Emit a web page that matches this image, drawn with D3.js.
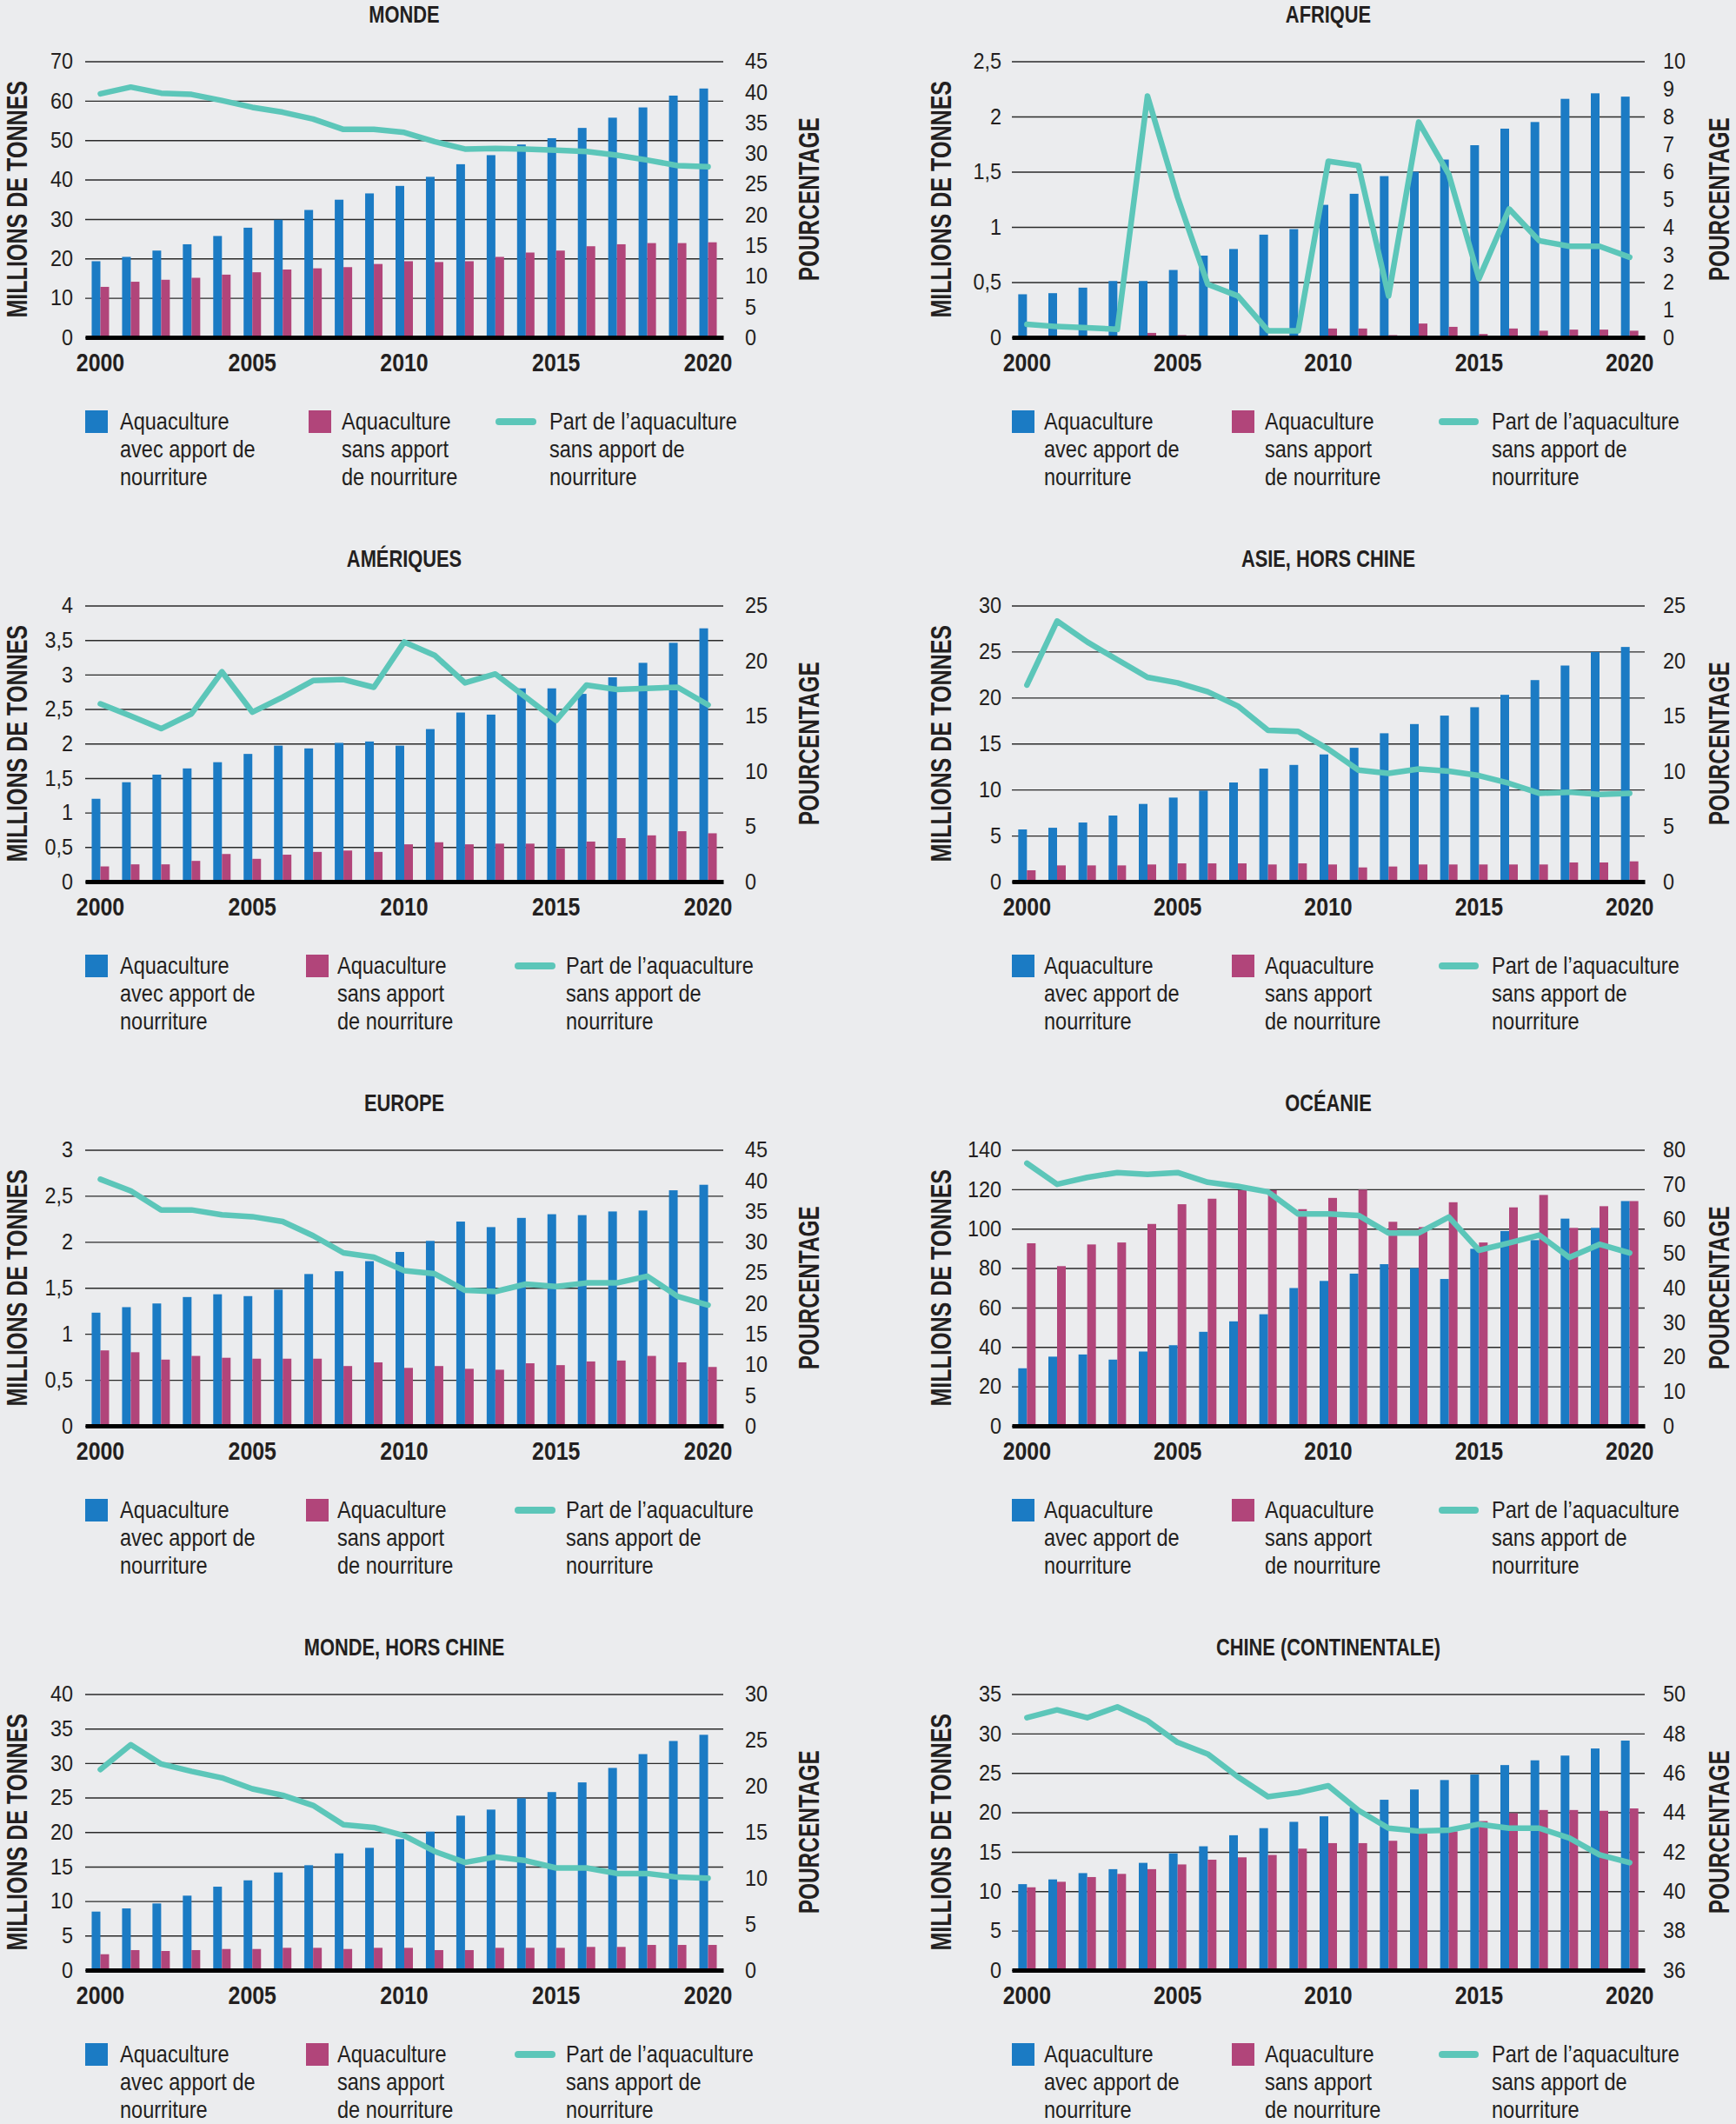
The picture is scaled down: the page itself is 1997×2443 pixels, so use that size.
<!DOCTYPE html>
<html><head><meta charset="utf-8">
<script src="https://cdn.jsdelivr.net/npm/d3@7"></script>
<style>
html,body{margin:0;padding:0;background:#EBECEE;}
svg{display:block;}
</style></head><body>
<svg id="chart" width="1997" height="2443"></svg>
<script>
// ---------- DATA ----------
const years = ["2000","2001","2002","2003","2004","2005","2006","2007","2008","2009","2010",
               "2011","2012","2013","2014","2015","2016","2017","2018","2019","2020"];
const yearTicks = ["2000","2005","2010","2015","2020"];

const titles = ["MONDE","AFRIQUE","AMÉRIQUES","ASIE, HORS CHINE","EUROPE","OCÉANIE","MONDE, HORS CHINE","CHINE (CONTINENTALE)"];

// Aquaculture avec apport de nourriture (millions de tonnes)
const mondeAvec   = [19.3,20.4,22.0,23.6,25.7,27.8,29.8,32.3,34.9,36.5,38.4,40.7,43.9,46.2,48.9,50.5,53.1,55.7,58.3,61.3,63.1];
const afriqueAvec = [0.39,0.40,0.45,0.51,0.51,0.61,0.74,0.80,0.93,0.98,1.20,1.30,1.46,1.50,1.61,1.74,1.89,1.95,2.16,2.21,2.18];
const ameriqAvec  = [1.20,1.44,1.55,1.64,1.73,1.85,1.97,1.93,2.01,2.03,1.97,2.21,2.45,2.42,2.80,2.80,2.72,2.96,3.17,3.46,3.67];
const asieAvec    = [5.67,5.85,6.42,7.18,8.44,9.13,9.88,10.77,12.28,12.68,13.82,14.54,16.12,17.12,18.04,18.95,20.3,21.9,23.48,24.96,25.5];
const europeAvec  = [1.23,1.29,1.33,1.40,1.43,1.41,1.48,1.65,1.68,1.79,1.89,2.01,2.22,2.16,2.26,2.30,2.29,2.33,2.34,2.56,2.62];
const oceanAvec   = [29.2,35.1,36.2,33.6,37.7,40.9,47.7,53.0,56.6,69.9,73.5,77.2,82.0,80.0,74.5,89.8,98.8,94.2,105.1,100.4,114.0];
const horsChAvec  = [8.48,8.94,9.66,10.79,12.09,13.01,14.15,15.2,16.92,17.72,18.98,20.07,22.38,23.26,24.9,25.8,27.2,29.3,31.3,33.2,34.1];
const chineAvec   = [10.9,11.5,12.3,12.8,13.6,14.8,15.7,17.1,18.0,18.8,19.5,20.6,21.6,22.9,24.1,24.8,26.0,26.6,27.2,28.1,29.1];

// Aquaculture sans apport de nourriture (millions de tonnes)
const mondeSans   = [12.8,14.1,14.6,15.1,15.9,16.5,17.2,17.5,17.8,18.6,19.3,19.1,19.3,20.4,21.5,22.0,23.1,23.6,23.9,23.9,24.1];
const afriqueSans = [0,0,0,0,0.04,0.02,0,0,0,0,0.08,0.08,0.02,0.125,0.095,0.03,0.08,0.06,0.07,0.07,0.06];
const ameriqSans  = [0.22,0.25,0.25,0.30,0.40,0.33,0.39,0.43,0.45,0.43,0.54,0.57,0.54,0.55,0.55,0.48,0.58,0.63,0.67,0.73,0.70];
const asieSans    = [1.23,1.76,1.76,1.76,1.86,1.98,1.98,1.98,1.86,1.98,1.86,1.54,1.64,1.86,1.86,1.86,1.86,1.86,2.08,2.08,2.2];
const europeSans  = [0.82,0.80,0.72,0.76,0.74,0.73,0.73,0.73,0.65,0.69,0.63,0.65,0.62,0.61,0.68,0.66,0.70,0.71,0.76,0.69,0.64];
const oceanSans   = [92.6,81.0,92.0,93.0,102.4,112.4,115.2,119.5,119.5,109.9,115.6,119.8,103.5,100.8,113.4,93.0,110.8,117.1,100.4,111.4,114.0];
const horsChSans  = [2.3,2.9,2.77,2.9,3.06,3.06,3.23,3.23,3.06,3.23,3.23,2.9,2.9,3.23,3.23,3.23,3.36,3.36,3.65,3.65,3.65];
const chineSans   = [10.5,11.2,11.8,12.2,12.8,13.4,14.0,14.3,14.6,15.4,16.1,16.1,16.4,17.3,17.6,18.9,19.9,20.3,20.3,20.2,20.5];

// Part de l'aquaculture sans apport de nourriture (pourcentage)
const mondePart   = [39.7,40.8,39.8,39.6,38.6,37.5,36.7,35.6,33.9,33.9,33.4,31.9,30.7,30.8,30.7,30.5,30.3,29.7,28.9,28.0,27.8];
const afriquePart = [0.47,0.39,0.35,0.29,8.74,5.07,1.92,1.5,0.24,0.24,6.38,6.22,1.5,7.8,5.9,2.13,4.65,3.5,3.3,3.3,2.9];
const ameriqPart  = [16.1,15.0,13.85,15.2,19.0,15.35,16.7,18.2,18.3,17.6,21.7,20.5,18.0,18.8,16.7,14.6,17.8,17.4,17.5,17.6,16.0];
const asiePart    = [17.8,23.6,21.7,20.1,18.5,18.0,17.2,15.9,13.7,13.6,12.0,10.1,9.8,10.2,10.0,9.6,8.9,8.0,8.1,7.9,8.0];
const europePart  = [40.2,38.3,35.2,35.2,34.4,34.1,33.3,31.0,28.2,27.5,25.3,24.8,22.1,21.9,23.1,22.7,23.3,23.3,24.4,21.1,19.7];
const oceanPart   = [76.1,70.0,72.0,73.4,72.9,73.4,70.6,69.4,67.8,61.4,61.4,61.0,55.9,55.9,60.5,50.9,53.0,55.3,48.8,52.6,50.1];
const horsChPart  = [21.8,24.5,22.4,21.6,20.9,19.7,19.0,17.9,15.8,15.5,14.6,12.9,11.7,12.3,11.9,11.1,11.1,10.5,10.5,10.1,10.0];
const chinePart   = [48.8,49.2,48.8,49.35,48.65,47.55,46.96,45.8,44.8,45.0,45.35,44.1,43.2,43.05,43.1,43.4,43.2,43.2,42.7,41.85,41.45];

// Tick labels (left: millions de tonnes, right: pourcentage)
const mondeLeftTicks   = [0,10,20,30,40,50,60,70];
const mondeRightTicks  = [0,5,10,15,20,25,30,35,40,45];
const afriqueLeftTicks = [0,0.5,1,1.5,2,2.5];
const afriqueRightTicks= [0,1,2,3,4,5,6,7,8,9,10];
const ameriqLeftTicks  = [0,0.5,1,1.5,2,2.5,3,3.5,4];
const ameriqRightTicks = [0,5,10,15,20,25];
const asieLeftTicks    = [0,5,10,15,20,25,30];
const asieRightTicks   = [0,5,10,15,20,25];
const europeLeftTicks  = [0,0.5,1,1.5,2,2.5,3];
const europeRightTicks = [0,5,10,15,20,25,30,35,40,45];
const oceanLeftTicks   = [0,20,40,60,80,100,120,140];
const oceanRightTicks  = [0,10,20,30,40,50,60,70,80];
const horsChLeftTicks  = [0,5,10,15,20,25,30,35,40];
const horsChRightTicks = [0,5,10,15,20,25,30];
const chineLeftTicks   = [0,5,10,15,20,25,30,35];
const chineRightTicks  = [36,38,40,42,44,46,48,50];

const yLabel = "MILLIONS DE TONNES";
const pctLabel = "POURCENTAGE";
const legendLines = [
  ["Aquaculture","avec apport de","nourriture"],
  ["Aquaculture","sans apport","de nourriture"],
  ["Part de l\u2019aquaculture","sans apport de","nourriture"]
];

// ---------- STYLE / LAYOUT ----------
const C_BLUE = "#1B7BC4", C_PINK = "#B1457A", C_TEAL = "#5CC6B9", C_TEXT = "#231F20";
const FONT = "'Liberation Sans',Arial,sans-serif";
const ROW_DY = 626, PLOT_TOP = 70.5, PLOT_BOT = 388;
// yTitleB / pctB: baseline x of the rotated axis titles
const cols = [
  {x0:98, x1:832, leftLab:84, rightLab:857, yTitleB:31, pctB:942,
   leg:{s1:98,t1:138,s2:352,t2:388,l3a:592,l3b:639,t3:651}},
  {x0:1164, x1:1892, leftLab:1152, rightLab:1913, yTitleB:1094, pctB:1989,
   leg:{s1:1164,t1:1201,s2:1417,t2:1455,l3a:1655,l3b:1701,t3:1716}}
];
const mondeLeg = {s1:98,t1:138,s2:355,t2:393,l3a:570,l3b:617,t3:632};

const panels = [
  {title:titles[0], avec:mondeAvec,  sans:mondeSans,  part:mondePart,  lt:mondeLeftTicks,  rt:mondeRightTicks, leg:mondeLeg},
  {title:titles[1], avec:afriqueAvec,sans:afriqueSans,part:afriquePart,lt:afriqueLeftTicks,rt:afriqueRightTicks},
  {title:titles[2], avec:ameriqAvec, sans:ameriqSans, part:ameriqPart, lt:ameriqLeftTicks, rt:ameriqRightTicks},
  {title:titles[3], avec:asieAvec,   sans:asieSans,   part:asiePart,   lt:asieLeftTicks,   rt:asieRightTicks},
  {title:titles[4], avec:europeAvec, sans:europeSans, part:europePart, lt:europeLeftTicks, rt:europeRightTicks},
  {title:titles[5], avec:oceanAvec,  sans:oceanSans,  part:oceanPart,  lt:oceanLeftTicks,  rt:oceanRightTicks},
  {title:titles[6], avec:horsChAvec, sans:horsChSans, part:horsChPart, lt:horsChLeftTicks, rt:horsChRightTicks},
  {title:titles[7], avec:chineAvec,  sans:chineSans,  part:chinePart,  lt:chineLeftTicks,  rt:chineRightTicks}
];

const fr = d3.formatLocale({decimal:",", thousands:"\u00a0", grouping:[3], currency:["","\u00a0€"]});
const fmt = v => fr.format("~g")(v);

// horizontally condense text (the reference uses a condensed typeface)
function squeeze(sel, f) {
  sel.each(function() {
    const w = this.getComputedTextLength();
    if (w > 0) {
      this.setAttribute("textLength", (w * f).toFixed(2));
      this.setAttribute("lengthAdjust", "spacingAndGlyphs");
    }
  });
}

const svg = d3.select("#chart");
svg.append("rect").attr("width",1997).attr("height",2443).attr("fill","#EBECEE");

panels.forEach((p, i) => {
  const col = cols[i % 2], row = Math.floor(i / 2);
  const g = svg.append("g").attr("transform", `translate(0,${row * ROW_DY})`);
  const x = d3.scaleBand().domain(years).range([col.x0, col.x1]);
  const step = x.step(), bw = 10;
  const yL = d3.scaleLinear().domain([p.lt[0], p.lt[p.lt.length-1]]).range([PLOT_BOT, PLOT_TOP]);
  const yR = d3.scaleLinear().domain([p.rt[0], p.rt[p.rt.length-1]]).range([PLOT_BOT, PLOT_TOP]);

  // title
  const tt = g.append("text").attr("x", (col.x0 + col.x1)/2).attr("y", 26)
    .attr("text-anchor","middle").attr("font-family",FONT).attr("font-weight","bold")
    .attr("font-size",28).attr("fill",C_TEXT).text(p.title);
  squeeze(tt, 0.78);

  // left axis with gridlines
  const ga = g.append("g").attr("transform", `translate(${col.x0},0)`)
    .call(d3.axisLeft(yL).tickValues(p.lt).tickFormat(fmt).tickSize(-(col.x1-col.x0)).tickPadding(col.x0-col.leftLab));
  ga.select(".domain").remove();
  ga.selectAll("line").attr("stroke","#2a2a2a").attr("stroke-width",1.4);
  ga.selectAll("text").attr("font-family",FONT).attr("font-size",26).attr("fill",C_TEXT);
  squeeze(ga.selectAll("text"), 0.9);

  // right axis
  const gr = g.append("g").attr("transform", `translate(${col.x1},0)`)
    .call(d3.axisRight(yR).tickValues(p.rt).tickFormat(fmt).tickSize(0).tickPadding(col.rightLab-col.x1));
  gr.select(".domain").remove();
  gr.selectAll("text").attr("font-family",FONT).attr("font-size",26).attr("fill",C_TEXT);
  squeeze(gr.selectAll("text"), 0.9);

  // bars
  g.append("g").selectAll("rect").data(years).join("rect")
    .attr("x", (d) => x(d) + step/2 - bw).attr("width", bw)
    .attr("y", (d,k) => yL(p.avec[k])).attr("height", (d,k) => PLOT_BOT - yL(p.avec[k]))
    .attr("fill", C_BLUE);
  g.append("g").selectAll("rect").data(years).join("rect")
    .attr("x", (d) => x(d) + step/2).attr("width", bw)
    .attr("y", (d,k) => yL(p.sans[k])).attr("height", (d,k) => PLOT_BOT - yL(p.sans[k]))
    .attr("fill", C_PINK);

  // baseline / x axis
  const gx = g.append("g").attr("transform", `translate(0,${PLOT_BOT})`)
    .call(d3.axisBottom(x).tickValues(yearTicks).tickSize(0).tickPadding(18));
  gx.select(".domain").attr("stroke","#000").attr("stroke-width",5);
  gx.selectAll("text").attr("font-family",FONT).attr("font-weight","bold")
    .attr("font-size",30).attr("fill",C_TEXT);
  squeeze(gx.selectAll("text"), 0.83);

  // line
  const line = d3.line().x((d,k) => x(years[k]) + step/2).y(d => yR(d));
  g.append("path").datum(p.part).attr("d", line).attr("fill","none")
    .attr("stroke",C_TEAL).attr("stroke-width",6.5)
    .attr("stroke-linejoin","round").attr("stroke-linecap","round");

  // axis titles (rotated; translate point is the baseline)
  const cy = (PLOT_TOP + PLOT_BOT)/2;
  const a1 = g.append("text").attr("transform", `translate(${col.yTitleB},${cy}) rotate(-90)`)
    .attr("text-anchor","middle").attr("font-family",FONT)
    .attr("font-weight","bold").attr("font-size",33).attr("fill",C_TEXT).text(yLabel);
  squeeze(a1, 0.76);
  const a2 = g.append("text").attr("transform", `translate(${col.pctB},${cy}) rotate(-90)`)
    .attr("text-anchor","middle").attr("font-family",FONT)
    .attr("font-weight","bold").attr("font-size",33).attr("fill",C_TEXT).text(pctLabel);
  squeeze(a2, 0.74);

  // legend
  const L = p.leg || col.leg;
  const lg = g.append("g");
  lg.append("rect").attr("x",L.s1).attr("y",472).attr("width",26).attr("height",26).attr("fill",C_BLUE);
  lg.append("rect").attr("x",L.s2).attr("y",472).attr("width",26).attr("height",26).attr("fill",C_PINK);
  lg.append("line").attr("x1",L.l3a+4).attr("x2",L.l3b-4).attr("y1",485).attr("y2",485)
    .attr("stroke",C_TEAL).attr("stroke-width",8).attr("stroke-linecap","round");
  [L.t1, L.t2, L.t3].forEach((tx, j) => {
    legendLines[j].forEach((s, m) => {
      const t = lg.append("text").attr("x",tx).attr("y",494 + m*32)
        .attr("font-family",FONT).attr("font-size",28).attr("fill",C_TEXT).text(s);
      squeeze(t, 0.84);
    });
  });
});
</script>
</body></html>
